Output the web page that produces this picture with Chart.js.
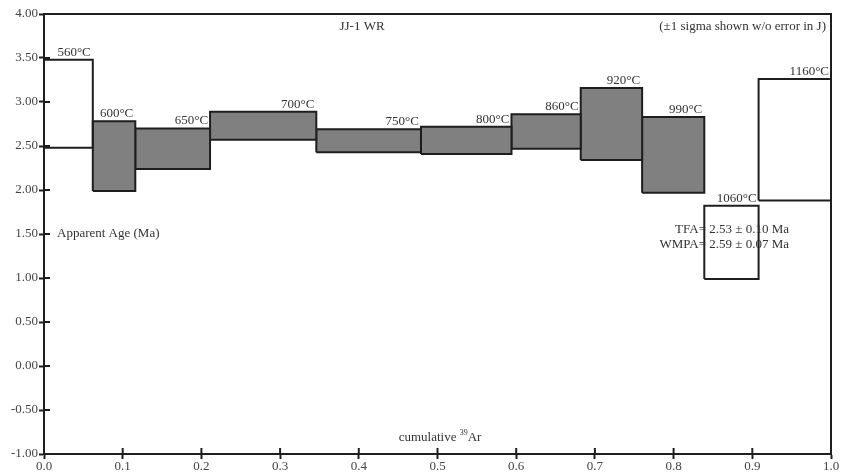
<!DOCTYPE html>
<html>
<head>
<meta charset="utf-8">
<script src="https://cdn.jsdelivr.net/npm/chart.js@4.4.1/dist/chart.umd.min.js"></script>
<style>
  html, body { margin: 0; padding: 0; background: #fff; }
  #wrap { width: 841px; height: 473px; }
</style>
</head>
<body>
<div id="wrap"><canvas id="spectrum"></canvas></div>
<script>
// heating steps of the age spectrum
const temps = ['560°C', '600°C', '650°C', '700°C', '750°C', '800°C', '860°C', '920°C', '990°C', '1060°C', '1160°C'];
// cumulative 39Ar fraction at the step boundaries
const cumFrac = [0.0, 0.062, 0.116, 0.211, 0.346, 0.479, 0.594, 0.682, 0.760, 0.839, 0.908, 1.0];
// apparent age, +/- 1 sigma (Ma)
const ageHigh = [3.48, 2.78, 2.70, 2.89, 2.69, 2.72, 2.86, 3.16, 2.83, 1.82, 3.26];
const ageLow = [2.48, 1.99, 2.24, 2.57, 2.43, 2.41, 2.47, 2.34, 1.97, 0.99, 1.88];
// steps used for the plateau (grey)
const inPlateau = [false, true, true, true, true, true, true, true, true, false, false];

const serif = "'Liberation Serif', 'DejaVu Serif', serif";
const ink = '#1e1e1e';

const datasets = temps.map((t, i) => ({
    label: t,
    data: [
        { x: cumFrac[i], y: ageLow[i] },
        { x: cumFrac[i], y: ageHigh[i] },
        { x: cumFrac[i + 1], y: ageHigh[i] },
        { x: cumFrac[i + 1], y: ageLow[i] },
        { x: cumFrac[i], y: ageLow[i] }
    ],
    borderColor: ink,
    borderWidth: 2,
    backgroundColor: inPlateau[i] ? '#808080' : 'rgba(255,255,255,0)',
    fill: inPlateau[i] ? 'shape' : false,
    pointRadius: 0,
    tension: 0
}));

// frame, inner tick marks and the text annotations
const decorations = {
    id: 'decorations',
    afterDatasetsDraw(chart) {
        const { ctx, chartArea: a, scales: { x, y } } = chart;
        ctx.save();
        ctx.strokeStyle = ink;
        ctx.lineWidth = 2;
        ctx.strokeRect(a.left, a.top, a.right - a.left, a.bottom - a.top);

        // ticks crossing into the plot
        ctx.beginPath();
        y.ticks.forEach(t => {
            const py = y.getPixelForValue(t.value);
            ctx.moveTo(a.left, py); ctx.lineTo(a.left + 6, py);
        });
        x.ticks.forEach(t => {
            const px = x.getPixelForValue(t.value);
            ctx.moveTo(px, a.bottom); ctx.lineTo(px, a.bottom - 6);
        });
        ctx.stroke();

        // step temperatures
        ctx.fillStyle = '#333';
        ctx.font = '13px ' + serif;
        ctx.textAlign = 'right';
        ctx.textBaseline = 'bottom';
        temps.forEach((t, i) => {
            ctx.fillText(t, x.getPixelForValue(cumFrac[i + 1]) - 2, y.getPixelForValue(ageHigh[i]) - 1);
        });

        ctx.textBaseline = 'middle';
        ctx.fillText('(±1 sigma shown w/o error in J)', 826, 27);
        ctx.fillText('TFA= 2.53 ± 0.10 Ma', 789, 230);
        ctx.fillText('WMPA= 2.59 ± 0.07 Ma', 789, 245);

        ctx.textAlign = 'center';
        ctx.fillText('JJ-1 WR', 362, 27);

        ctx.textAlign = 'left';
        ctx.fillText('Apparent Age (Ma)', 57, 234);

        // cumulative 39Ar with superscript
        const w1 = ctx.measureText('cumulative ').width;
        ctx.font = '8px ' + serif;
        const w2 = ctx.measureText('39').width;
        ctx.font = '13px ' + serif;
        const w3 = ctx.measureText('Ar').width;
        let sx = 440 - (w1 + w2 + w3) / 2;
        ctx.fillText('cumulative ', sx, 438);
        ctx.font = '8px ' + serif;
        ctx.fillText('39', sx + w1, 433);
        ctx.font = '13px ' + serif;
        ctx.fillText('Ar', sx + w1 + w2, 438);
        ctx.restore();
    }
};

new Chart(document.getElementById('spectrum'), {
    type: 'line',
    data: { datasets },
    options: {
        responsive: true,
        maintainAspectRatio: false,
        animation: false,
        layout: { padding: { top: 14, right: 10, left: 0, bottom: 0 } },
        plugins: { legend: { display: false }, tooltip: { enabled: false } },
        scales: {
            x: {
                type: 'linear',
                min: 0, max: 1,
                afterFit: s => { s.height = 19; },
                border: { color: ink, width: 2 },
                grid: { drawOnChartArea: false, tickLength: 5, tickColor: ink, tickWidth: 2 },
                ticks: {
                    stepSize: 0.1,
                    padding: 0,
                    maxRotation: 0,
                    color: '#444',
                    font: { family: serif, size: 13 },
                    callback: v => v.toFixed(1)
                }
            },
            y: {
                min: -1, max: 4,
                afterFit: s => { s.width = 44; },
                border: { color: ink, width: 2 },
                grid: { drawOnChartArea: false, tickLength: 5, tickColor: ink, tickWidth: 2 },
                ticks: {
                    stepSize: 0.5,
                    padding: 1,
                    color: '#444',
                    font: { family: serif, size: 13 },
                    callback: v => v.toFixed(2)
                }
            }
        }
    },
    plugins: [decorations]
});
</script>
</body>
</html>
